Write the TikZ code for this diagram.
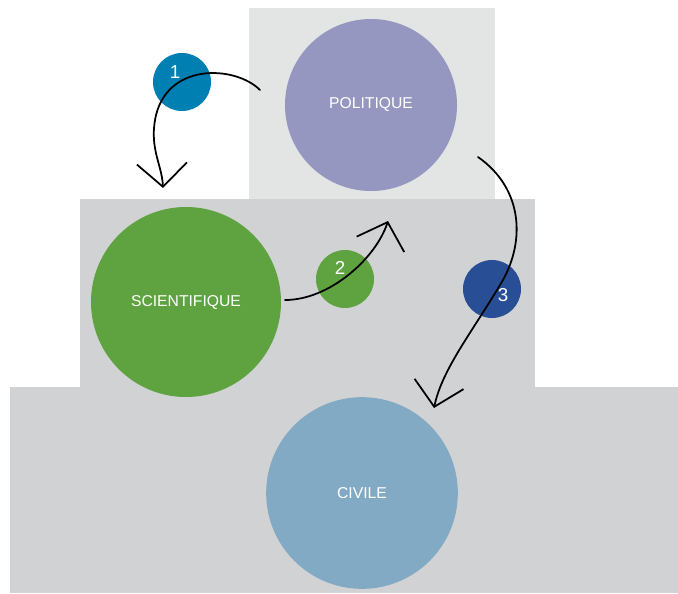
\documentclass[tikz,border=0pt]{standalone}
\usepackage{fontspec}
\setmainfont{Liberation Sans}
\usetikzlibrary{arrows.meta}
\definecolor{grisclair}{HTML}{E3E4E4}
\definecolor{gris}{HTML}{D1D2D4}
\definecolor{mauve}{HTML}{9597C0}
\definecolor{vert}{HTML}{5FA341}
\definecolor{ciel}{HTML}{82AAC4}
\definecolor{turquoise}{HTML}{0080B2}
\definecolor{marine}{HTML}{284F96}
\tikzstyle{sphere}=[circle, inner sep=0pt, text=white,
  font=\fontsize{13.4}{16}\selectfont]
\tikzstyle{pastille}=[circle, inner sep=0pt, minimum size=1.74cm]
\tikzstyle{numero}=[text=white, font=\fontsize{16}{19}\selectfont]
\tikzstyle{fleche}=[draw, line width=1.5pt, line cap=round,
  -{Straight Barb[length=0.7cm, width=1.5cm]}]
\newcommand{\pastille}[4]{%
  \path (#2) node (n#1) [pastille, fill=#3] {};
  \path (n#1.center)+#4 node (t#1) [numero] {#1};}

\begin{document}
\begin{tikzpicture}[x=0.03cm, y=-0.03cm]
\useasboundingbox (0,0) rectangle (678,593);

% Draw the steps
\fill[grisclair] (249,8) rectangle (495,199);
\fill[gris] (80,199) rectangle (535,388);
\fill[gris] (10,387) rectangle (678,593);

% Draw the spheres
\path (371,105) node (pol) [sphere, fill=mauve, minimum size=5.16cm] {POLITIQUE};
\path (186,302) node (sci) [sphere, fill=vert, minimum size=5.7cm] {SCIENTIFIQUE};
\path (362,493) node (civ) [sphere, fill=ciel, minimum size=5.75cm] {CIVILE};

% Draw the numbered discs
\coordinate (c1) at (182,82);
\coordinate (c2) at (345,279);
\coordinate (c3) at (492,289);
\pastille{1}{c1}{turquoise}{(-7,-10)}
\pastille{2}{c2}{vert}{(-5,-11)}
\pastille{3}{c3}{marine}{(11,6)}

% Draw arrows between elements
\coordinate (d1) at (260,90);
\coordinate (f1) at (163,188);
\coordinate (d2) at (285,300);
\coordinate (f2) at (388,221);
\coordinate (d3) at (478,157);
\coordinate (f3) at (434,408);
\path [fleche] (d1) .. controls (235,65) and (165,62) .. (155,120)
  .. controls (150,150) and (162,165) .. (f1);
\path [fleche] (d2) .. controls (330,300) and (376,258) .. (f2);
\path [fleche] (d3) .. controls (525,190) and (525,245) .. (500,285)
  .. controls (470,335) and (442,370) .. (f3);
\end{tikzpicture}
\end{document}
